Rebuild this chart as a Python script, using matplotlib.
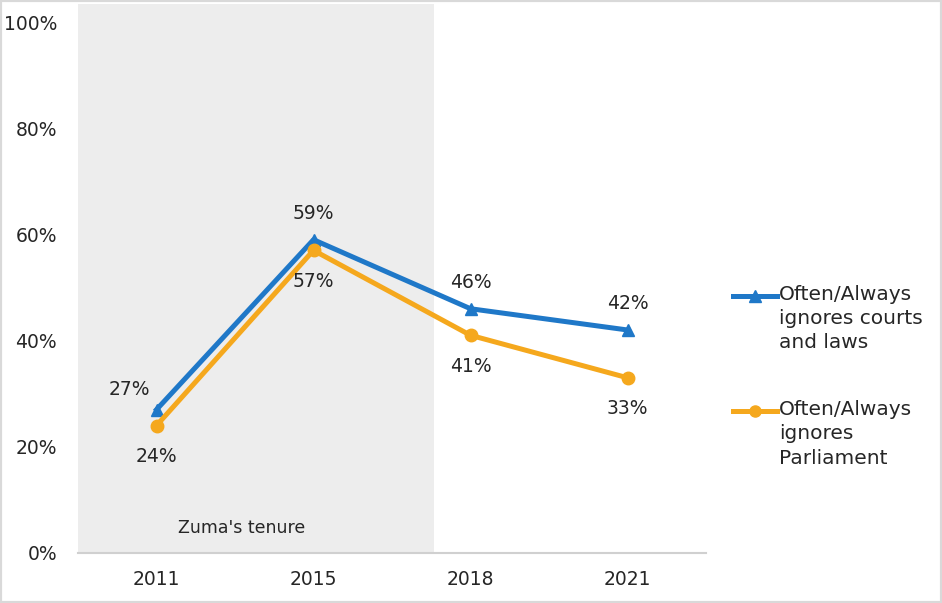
import matplotlib
matplotlib.use("Agg")
import matplotlib.pyplot as plt
from matplotlib.lines import Line2D
from matplotlib.patches import Rectangle

# Survey data
years = ["2011", "2015", "2018", "2021"]
courts = [27, 59, 46, 42]
parliament = [24, 57, 41, 33]
courts_label = "Often/Always\nignores courts\nand laws"
parliament_label = "Often/Always\nignores\nParliament"
yticks = [0, 20, 40, 60, 80, 100]

blue = "#1f78c8"
orange = "#f5a81d"
text_col = "#262626"

plt.rcParams["font.family"] = ["DejaVu Sans"]

fig = plt.figure(figsize=(9.42, 6.03), dpi=100)
W, H = 942, 603
# plot area in pixels: x 78..706, y 22..553
ax = fig.add_axes([78 / W, (H - 553) / H, (706 - 78) / W, (553 - 22) / H])

x = list(range(len(years)))
ax.set_xlim(-0.5, len(years) - 0.5)
ax.set_ylim(0, 100)

# Zuma's tenure shading
ax.add_patch(Rectangle((-0.5, 0), 2.27, 103.3, facecolor="#ededed",
                       edgecolor="none", clip_on=False, zorder=0))
ax.text(0.54, 4.7, "Zuma's tenure", ha="center", va="center",
        fontsize=12.5, color=text_col)

ax.plot(x, courts, color=blue, lw=3.6, marker="^", ms=9, zorder=3)
ax.plot(x, parliament, color=orange, lw=3.6, marker="o", ms=9, zorder=3)

# Data labels
courts_off = [(-27, 20), (0, 26), (0, 26), (0, 26)]
parl_off = [(0, -31), (0, -31), (0, -31), (0, -31)]
for i in x:
    dx, dy = courts_off[i]
    ax.annotate("%d%%" % courts[i], (i, courts[i]), xytext=(dx, dy),
                textcoords="offset pixels", ha="center", va="center",
                fontsize=13.5, color=text_col)
    dx, dy = parl_off[i]
    ax.annotate("%d%%" % parliament[i], (i, parliament[i]), xytext=(dx, dy),
                textcoords="offset pixels", ha="center", va="center",
                fontsize=13.5, color=text_col)

ax.set_xticks(x)
ax.set_xticklabels(years)
ax.set_yticks(yticks)
ax.set_yticklabels(["%d%%" % v for v in yticks])
ax.tick_params(axis="both", length=0, labelsize=13.5, colors=text_col)
ax.tick_params(axis="y", pad=15)
ax.tick_params(axis="x", pad=12)
for s in ["top", "right", "left"]:
    ax.spines[s].set_visible(False)
ax.spines["bottom"].set_color("#d0d0d0")
ax.spines["bottom"].set_linewidth(1.5)
ax.patch.set_alpha(0)

# Legend drawn by hand (handle aligned with first text line)
def legend_entry(ypix, color, marker, label):
    y = (H - ypix) / H
    fig.add_artist(Line2D([733 / W, 755 / W, 777 / W], [y, y, y], color=color,
                          lw=3.6, marker=marker, ms=8, markevery=[1]))
    fig.text(779 / W, y + 11 / H, label, ha="left", va="top", fontsize=14.5,
             color=text_col, linespacing=1.35)

legend_entry(296, blue, "^", courts_label)
legend_entry(411, orange, "o", parliament_label)

# Frame around the picture
fig.add_artist(Rectangle((0, 0), 1, 1, transform=fig.transFigure, fill=False,
                         edgecolor="#d9d9d9", lw=3))

fig.savefig("out.png", dpi=100, facecolor="white")
